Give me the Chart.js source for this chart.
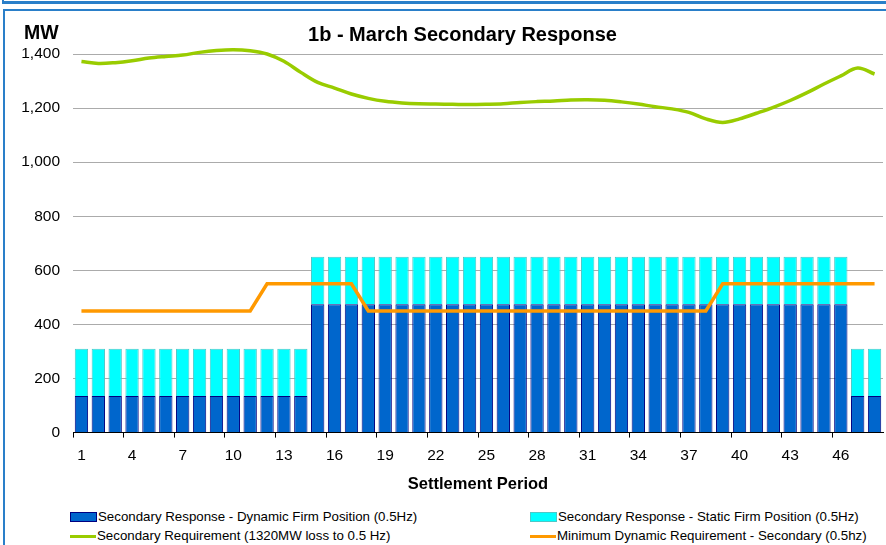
<!DOCTYPE html>
<html>
<head>
<meta charset="utf-8">
<script src="https://cdn.jsdelivr.net/npm/chart.js@4/dist/chart.umd.min.js"></script>
<style>
    body { margin: 0; background: #fff; font-family: "Liberation Sans", Arial, sans-serif; }
    #wrap { position: relative; width: 886px; height: 545px; overflow: hidden; }
    #prevFrame { position: absolute; left: 2px; top: -10px; width: 900px; height: 11px; border-left: 2px solid #2a7fc9; border-bottom: 3px solid #2a7fc9; }
    #frame { position: absolute; left: 3px; top: 9px; width: 900px; height: 600px; border-left: 2px solid #2a7fc9; border-top: 2px solid #2a7fc9; }
    #box { position: absolute; left: 0; top: 0; width: 886px; height: 500px; }
    #mw { position: absolute; left: 24px; top: 21px; font-weight: bold; font-size: 19.5px; }
    .legend-item { position: absolute; font-size: 13.3px; color: #000; white-space: nowrap; line-height: 16px; }
    .legend-item span.sw { position: absolute; left: 0; }
</style>
</head>
<body>
<div id="wrap">
    <div id="prevFrame"></div>
    <div id="frame"></div>
    <div id="box"><canvas id="chart"></canvas></div>
    <div id="mw">MW</div>
    <div id="legend"></div>
</div>
<script>
    const periods = ['1', '2', '3', '4', '5', '6', '7', '8', '9', '10', '11', '12', '13', '14', '15', '16',
        '17', '18', '19', '20', '21', '22', '23', '24', '25', '26', '27', '28', '29', '30', '31', '32',
        '33', '34', '35', '36', '37', '38', '39', '40', '41', '42', '43', '44', '45', '46', '47', '48'];

    const dynamicFirm = [135, 135, 135, 135, 135, 135, 135, 135, 135, 135, 135, 135, 135, 135,
        475, 475, 475, 475, 475, 475, 475, 475, 475, 475, 475, 475, 475, 475, 475, 475,
        475, 475, 475, 475, 475, 475, 475, 475, 475, 475, 475, 475, 475, 475, 475, 475,
        135, 135];

    const staticFirm = [175, 175, 175, 175, 175, 175, 175, 175, 175, 175, 175, 175, 175, 175,
        175, 175, 175, 175, 175, 175, 175, 175, 175, 175, 175, 175, 175, 175, 175, 175,
        175, 175, 175, 175, 175, 175, 175, 175, 175, 175, 175, 175, 175, 175, 175, 175,
        175, 175];

    const requirement = [1372, 1365, 1368, 1375, 1385, 1391, 1396, 1406, 1413, 1416, 1412, 1400,
        1373, 1332, 1295, 1274, 1252, 1236, 1225, 1219, 1216, 1215, 1214, 1213,
        1214, 1216, 1221, 1224, 1226, 1230, 1231, 1229, 1223, 1215, 1205, 1197,
        1184, 1160, 1147, 1160, 1181, 1203, 1228, 1257, 1289, 1319, 1348, 1326];

    const minDynamic = [450, 450, 450, 450, 450, 450, 450, 450, 450, 450, 450, 550,
        550, 550, 550, 550, 550, 450, 450, 450, 450, 450, 450, 450,
        450, 450, 450, 450, 450, 450, 450, 450, 450, 450, 450, 450,
        450, 450, 550, 550, 550, 550, 550, 550, 550, 550, 550, 550];

    const FONT = '"Liberation Sans", Arial, sans-serif';

    const datasets = [
        {
            type: 'bar',
            label: 'Secondary Response - Dynamic Firm Position (0.5Hz)',
            data: dynamicFirm,
            backgroundColor: '#0066cc',
            borderColor: '#000080',
            borderWidth: 1,
            stack: 'firm',
            order: 2
        },
        {
            type: 'bar',
            label: 'Secondary Response - Static Firm Position (0.5Hz)',
            data: staticFirm,
            backgroundColor: '#00ffff',
            borderColor: '#4cc8c8',
            borderWidth: 1,
            stack: 'firm',
            order: 2
        },
        {
            type: 'line',
            label: 'Secondary Requirement (1320MW loss to 0.5 Hz)',
            data: requirement,
            borderColor: '#99cc00',
            backgroundColor: '#99cc00',
            borderWidth: 3.5,
            pointRadius: 0,
            tension: 0.35,
            clip: false, // the curve pokes above 1,400 in the original
            stack: 'req',
            order: 1
        },
        {
            type: 'line',
            label: 'Minimum Dynamic Requirement - Secondary (0.5hz)',
            data: minDynamic,
            borderColor: '#ff9900',
            backgroundColor: '#ff9900',
            borderWidth: 3.5,
            pointRadius: 0,
            tension: 0,
            stack: 'min',
            order: 0
        }
    ];

    // title sits a bit right of the canvas centre
    const titleShift = {
        id: 'titleShift',
        afterLayout(chart) {
            if (chart.titleBlock) {
                chart.titleBlock.left = 42;
            }
        }
    };

    const chart = new Chart(document.getElementById('chart'), {
        type: 'bar',
        data: {labels: periods, datasets: datasets},
        plugins: [titleShift],
        options: {
            responsive: true,
            maintainAspectRatio: false,
            animation: false,
            datasets: {
                bar: {categoryPercentage: 1, barPercentage: 0.79}
            },
            layout: {padding: {left: 8, right: 3, top: 10, bottom: 6}},
            plugins: {
                legend: {display: false},
                tooltip: {enabled: false},
                title: {
                    display: true,
                    text: '1b - March Secondary Response',
                    color: '#000',
                    font: {family: FONT, size: 20, weight: 'bold'},
                    padding: {top: 13, bottom: 7}
                }
            },
            scales: {
                x: {
                    stacked: true,
                    grid: {
                        drawOnChartArea: false,
                        drawTicks: true,
                        tickLength: 5,
                        color: ctx => (ctx.index % 3 === 0 || ctx.index === periods.length) ? '#000' : 'rgba(0,0,0,0)'
                    },
                    border: {display: true, color: '#000', width: 1},
                    ticks: {
                        autoSkip: false,
                        maxRotation: 0,
                        padding: 9,
                        color: '#000',
                        font: {family: FONT, size: 15.5},
                        callback: (value, index) => index % 3 === 0 ? periods[index] : ''
                    },
                    title: {
                        display: true,
                        text: 'Settlement Period',
                        color: '#000',
                        font: {family: FONT, size: 16.5, weight: 'bold'},
                        padding: {top: 0, bottom: 0}
                    }
                },
                y: {
                    stacked: true,
                    min: 0,
                    max: 1400,
                    afterFit: scale => { scale.width = 65; },
                    grid: {color: '#ababab', lineWidth: 1, drawTicks: false},
                    border: {display: false},
                    ticks: {
                        stepSize: 200,
                        padding: 13,
                        color: '#000',
                        font: {family: FONT, size: 15.5},
                        callback: value => value.toLocaleString('en-US')
                    }
                }
            }
        }
    });

    // legend in two columns, like the original sheet
    const legendSpots = [
        {left: 70, top: 509},
        {left: 530, top: 509},
        {left: 70, top: 528},
        {left: 530, top: 528}
    ];
    const legendEl = document.getElementById('legend');
    chart.data.datasets.forEach((ds, i) => {
        const item = document.createElement('div');
        item.className = 'legend-item';
        item.style.left = legendSpots[i].left + 'px';
        item.style.top = legendSpots[i].top + 'px';
        const sw = document.createElement('span');
        sw.className = 'sw';
        if (ds.type === 'bar') {
            sw.style.cssText = `top:3px;width:25px;height:8px;background:${ds.backgroundColor};border:1px solid ${ds.borderColor};`;
        } else {
            sw.style.cssText = `top:7px;width:26px;height:3px;background:${ds.borderColor};`;
        }
        const txt = document.createElement('span');
        txt.style.marginLeft = (ds.type === 'bar' ? 28 : 27) + 'px';
        txt.textContent = ds.label;
        item.appendChild(sw);
        item.appendChild(txt);
        legendEl.appendChild(item);
    });
</script>
</body>
</html>
